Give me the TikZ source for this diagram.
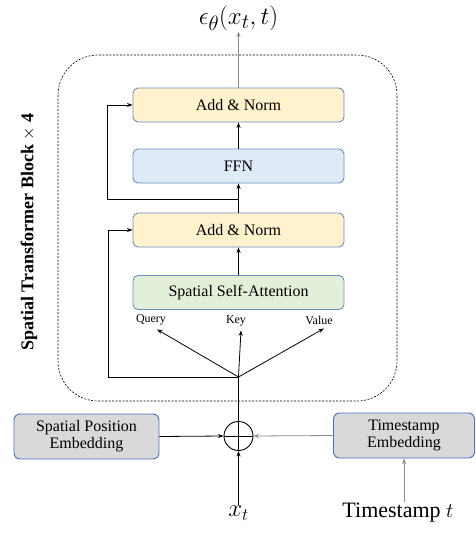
\documentclass[tikz,border=0pt]{standalone}
\usepackage{fontspec}
\setmainfont{Liberation Serif}
\usetikzlibrary{arrows.meta,calc}

\definecolor{normfill}{HTML}{FFF2CC}
\definecolor{ffnfill}{HTML}{DEEBF7}
\definecolor{attnfill}{HTML}{E2F0D9}
\definecolor{embfill}{HTML}{D9D9D9}
\definecolor{boxline}{HTML}{6C8EBF}
\definecolor{embline}{HTML}{4472C4}
\definecolor{softgray}{HTML}{8C8C8C}

\tikzset{
  blk/.style={draw=boxline, line width=0.9pt, rounded corners=5pt,
    minimum width=211pt, minimum height=34pt, inner sep=0pt,
    font=\fontsize{16}{18}\selectfont},
  embbox/.style={draw=embline, line width=0.9pt, rounded corners=6pt, fill=embfill,
    minimum height=45pt, inner sep=0pt, align=center,
    font=\fontsize{16}{18}\selectfont},
  qkv/.style={inner sep=1pt, font=\fontsize{12}{14}\selectfont},
  arr/.style={-{Stealth[length=5.5pt,width=4pt]}, line width=0.8pt},
  plain/.style={line width=0.8pt}
}

\begin{document}
\begin{tikzpicture}[x=1pt,y=-1pt]
\useasboundingbox (0,0) rectangle (475,533);

% repeated block
\draw[dash pattern=on 2pt off 1.5pt, line width=0.6pt, rounded corners=40pt] (58,55) rectangle (397,401);
\node[rotate=90, font=\fontsize{18}{20}\selectfont\bfseries] (title) at (29,232)
  {Spatial Transformer Block $\times$ 4};

\node[blk, fill=normfill] (an1) at (238.5,105) {Add \& Norm};
\node[blk, fill=ffnfill]  (ffn) at (238.5,166) {FFN};
\node[blk, fill=normfill] (an2) at (238.5,230) {Add \& Norm};
\node[blk, fill=attnfill] (ssa) at (238.5,292.5) {Spatial Self-Attention};

\node[qkv] (q) at (151,320) {Query};
\node[qkv] (k) at (236,321) {Key};
\node[qkv] (v) at (319,320) {Value};

\coordinate (split) at (238.5,377);
\coordinate (join)  at (238.5,199);

% inputs
\node[draw, line width=0.9pt, circle, minimum size=29pt, inner sep=0pt] (plus) at (238.5,436) {};
\draw[plain] (plus.north) -- (plus.south) (plus.west) -- (plus.east);

\node[embbox, minimum width=145pt] (spe) at (86.5,436.5) {Spatial Position\\[-1pt]Embedding};
\node[embbox, minimum width=141pt] (tse) at (404,435.5) {Timestamp\\[-1pt]Embedding};

\node[font=\fontsize{27}{29}\selectfont, inner sep=1pt] (xt) at (238.5,513) {$x_t$};
\node[font=\fontsize{22}{25}\selectfont, inner sep=1pt] (tst) at (398,513) {Timestamp $t$};
\node[font=\fontsize{28}{30}\selectfont, inner sep=1pt] (out) at (238.5,18) {$\epsilon_\theta(x_t,t)$};

% connectors
\draw[arr, softgray] (an1.north) -- (out.south);
\draw[arr] (ffn.north) -- (an1.south);
\draw[arr] (an2.north) -- (ffn.south);
\draw[arr] (join) -- ++(-131,0) |- (an1.west);
\draw[arr] (ssa.north) -- (an2.south);
\draw[arr] (split) -- ++(-130,0) |- (an2.west);
\draw[arr] (split) -- ([xshift=6pt,yshift=-3pt]q.south);
\draw[arr] (split) -- ([xshift=5pt,yshift=-3pt]k.south);
\draw[arr] (split) -- ([xshift=5pt,yshift=-3pt]v.south);
\draw[plain] (plus.north) -- (split);

\draw[arr] (spe.east) -- (plus.west);
\draw[arr, softgray] (tse.west) -- (plus.east);
\draw[arr] (xt.north) -- (plus.south);
\draw[arr, softgray] (tse.south |- tst.north) -- (tse.south);
\end{tikzpicture}
\end{document}
